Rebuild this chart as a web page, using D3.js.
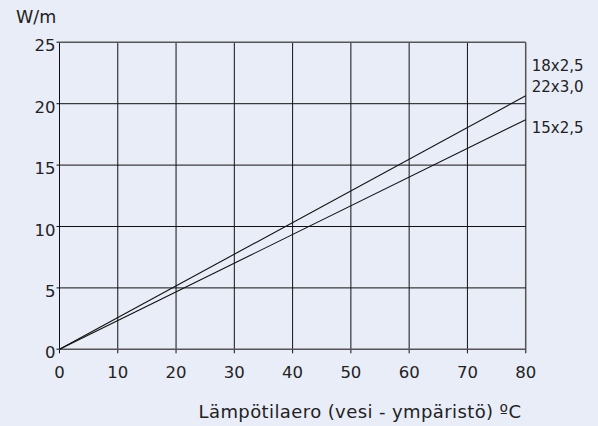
<!DOCTYPE html>
<html><head><meta charset="utf-8">
<script src="https://cdn.jsdelivr.net/npm/d3@7"></script>
<style>
html,body{margin:0;padding:0;background:#e9edf7;}
svg{display:block;font-family:"DejaVu Sans","Open Sans",sans-serif;}
</style></head><body>
<svg id="c" width="598" height="426"></svg>
<script>
const xTicks = [0,10,20,30,40,50,60,70,80];
const yTicks = [0,5,10,15,20,25];
const seriesNames = ["18x2,5\n22x3,0","15x2,5"];
const seriesX = [0,80];
const upperVals = [0,20.65];
const lowerVals = [0,18.7];
const xTitle = "Lämpötilaero (vesi - ympäristö) ºC";
const yTitle = "W/m";

const svg = d3.select("#c");
const L=59.5,R=525.7,T=42.3,B=349.3;
const x = d3.scaleLinear().domain([0,80]).range([L,R]);
const y = d3.scaleLinear().domain([0,25]).range([B,T]);
const txt="#222";

// grid
svg.append("g").selectAll("line").data(xTicks).join("line")
  .attr("x1",d=>x(d)).attr("x2",d=>x(d)).attr("y1",T).attr("y2",B+4)
  .attr("stroke",d=>d===80?"#555":"#111").attr("stroke-width",d=>d===80?1.5:1);
svg.append("g").selectAll("line").data(yTicks).join("line")
  .attr("x1",L-3).attr("x2",R).attr("y1",d=>y(d)).attr("y2",d=>y(d))
  .attr("stroke",d=>(d===25||d===0)?"#555":"#111").attr("stroke-width",d=>(d===25||d===0)?1.6:1);

// tick labels
svg.append("g").selectAll("text").data(xTicks).join("text")
  .attr("x",d=>x(d)).attr("y",378).attr("text-anchor","middle")
  .attr("font-size",16.5).attr("fill",txt).text(d=>d);
svg.append("g").selectAll("text").data(yTicks).join("text")
  .attr("x",L-4).attr("y",d=>y(d)+9).attr("text-anchor","end")
  .attr("font-size",16.5).attr("fill",txt).text(d=>d);

// lines
const line = d3.line().x((d,i)=>x(seriesX[i])).y(d=>y(d));
[upperVals,lowerVals].forEach(v=>{
  svg.append("path").datum(v).attr("d",line).attr("fill","none")
    .attr("stroke","#111").attr("stroke-width",1.1);
});

// series labels
const lab = svg.append("g").attr("font-size",15).attr("fill",txt);
lab.append("text").attr("x",R+6).attr("y",71).text(seriesNames[0].split("\n")[0]);
lab.append("text").attr("x",R+6).attr("y",92).text(seriesNames[0].split("\n")[1]);
lab.append("text").attr("x",R+6).attr("y",133).text(seriesNames[1]);

// titles
svg.append("text").attr("x",16).attr("y",23).attr("font-size",17.5).attr("fill",txt).text(yTitle);
svg.append("text").attr("x",360).attr("y",418).attr("text-anchor","middle")
  .attr("font-size",18).attr("letter-spacing",0.4).attr("fill",txt).text(xTitle);
</script></body></html>
